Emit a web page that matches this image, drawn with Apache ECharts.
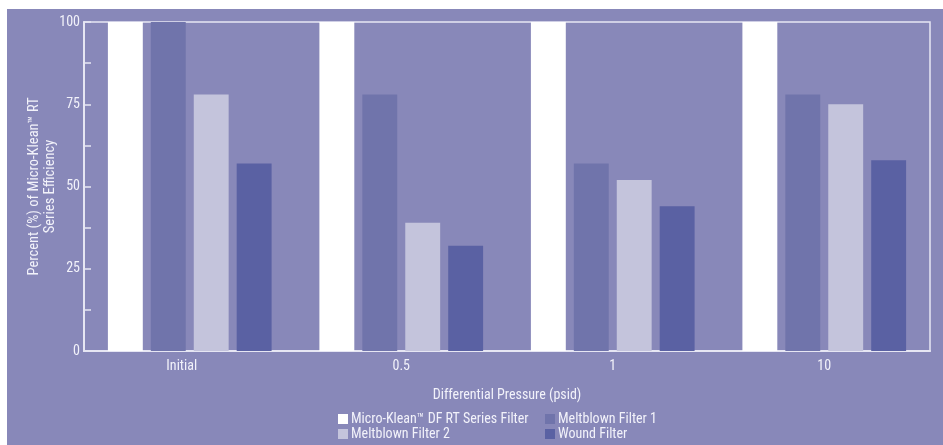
<!DOCTYPE html>
<html><head><meta charset="utf-8">
<script src="https://cdn.jsdelivr.net/npm/echarts@6/dist/echarts.min.js"></script>
<style>html,body{margin:0;padding:0;background:#fff}#c{width:943px;height:445px}</style>
</head><body><div id="c"></div>
<script>
const categories = ['Initial', '0.5', '1', '10'];
const microKlean = [100, 100, 100, 100];
const meltblown1 = [100, 78, 57, 78];
const meltblown2 = [78, 39, 52, 75];
const wound = [57, 32, 44, 58];
const yTicks = [0, 25, 50, 75, 100];

const FONT = "'Liberation Sans Narrow', 'Roboto Condensed', 'Liberation Sans', sans-serif";
const TXT = '#f2f2fa';
const chart = echarts.init(document.getElementById('c'));
const mk = (name, data, color) => ({
  name, type: 'bar', data, barGap: '23%', barCategoryGap: '22.6%',
  itemStyle: { color }, emphasis: { disabled: true }
});
const legendText = { color: TXT, fontSize: 14, fontFamily: FONT, lineHeight: 14, padding: [0, 0, 0, -2] };
chart.setOption({
  backgroundColor: '#ffffff',
  animation: false,
  textStyle: { fontFamily: FONT },
  graphic: [{ type: 'rect', left: 7, top: 9, shape: { width: 936, height: 436 },
    style: { fill: '#8888b9' }, z: -10, silent: true }],
  grid: { left: 84, right: 13, top: 22, bottom: 94, show: true,
    borderColor: '#e6e6f3', borderWidth: 1.5, backgroundColor: 'transparent' },
  xAxis: {
    type: 'category', data: categories,
    name: 'Differential Pressure (psid)', nameLocation: 'middle', nameGap: 37,
    nameMoveOverlap: false,
    nameTextStyle: { color: TXT, fontSize: 14, fontFamily: FONT },
    axisLine: { lineStyle: { color: '#e6e6f3', width: 2 } },
    axisTick: { show: false },
    axisLabel: { color: TXT, fontSize: 14, fontFamily: FONT, margin: 8,
      formatter: v => v === 'Initial' ? '{a|' + v + '}' : v,
      rich: { a: { color: TXT, fontSize: 14, fontFamily: FONT, padding: [0, 16, 0, 0] } } }
  },
  yAxis: {
    type: 'value', min: 0, max: 100, interval: 12.5,
    name: 'Percent (%) of Micro-Klean™ RT\nSeries Efficiency', nameLocation: 'middle', nameGap: 26,
    nameMoveOverlap: false,
    nameTextStyle: { color: TXT, fontSize: 14.5, fontFamily: FONT, lineHeight: 16 },
    axisLine: { show: true, lineStyle: { color: '#e6e6f3', width: 2 } },
    axisTick: { show: true, inside: true, length: 7, lineStyle: { color: '#e6e6f3', width: 1.5 } },
    splitLine: { show: false },
    axisLabel: { color: TXT, fontSize: 14, fontFamily: FONT, margin: 4,
      formatter: v => yTicks.includes(v) ? String(v) : '' }
  },
  legend: [
    { data: ['Micro-Klean™ DF RT Series Filter', 'Meltblown Filter 2'], orient: 'vertical',
      left: 338, top: 412, height: 32, itemWidth: 10, itemHeight: 10, itemGap: 1, padding: 0,
      icon: 'rect', textStyle: legendText },
    { data: ['Meltblown Filter 1', 'Wound Filter'], orient: 'vertical',
      left: 545, top: 412, height: 32, itemWidth: 10, itemHeight: 10, itemGap: 1, padding: 0,
      icon: 'rect', textStyle: legendText }
  ],
  series: [
    mk('Micro-Klean™ DF RT Series Filter', microKlean, '#ffffff'),
    mk('Meltblown Filter 1', meltblown1, '#7074ab'),
    mk('Meltblown Filter 2', meltblown2, '#c4c4dc'),
    mk('Wound Filter', wound, '#5a61a3')
  ]
});
</script></body></html>
